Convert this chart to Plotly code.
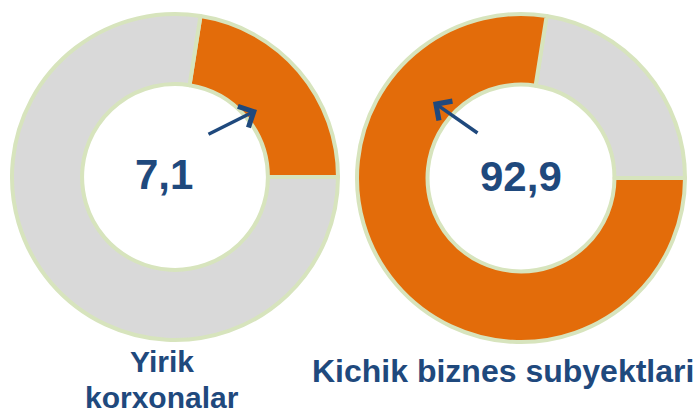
import plotly.graph_objects as go

# Data
categories_left = ["Yirik korxonalar", "Boshqa"]
slice_left = [22.5, 77.5]          # visible share of the orange arc / grey arc
value_label_left = "7,1"

categories_right = ["Boshqa", "Kichik biznes subyektlari"]
slice_right = [22.5, 77.5]
value_label_right = "92,9"

title_left = ["Yirik", "korxonalar"]
title_right = "Kichik biznes subyektlari"

ORANGE = "#E36C0A"
GREY = "#D9D9D9"
BORDER = "#D7E4BD"
BLUE = "#1F497D"
W, H = 699, 414
FONT = "Liberation Sans, Arial, sans-serif"

def px(x):
    return x / W

def py(y):
    return 1 - y / H

fig = go.Figure()
fig.add_trace(go.Pie(
    labels=categories_left, values=slice_left, sort=False, direction="clockwise",
    rotation=9, hole=0.57, textinfo="none", hoverinfo="label+value",
    marker=dict(colors=[ORANGE, GREY], line=dict(color=BORDER, width=4)),
    domain=dict(x=[px(12), px(338)], y=[py(340), py(14)]),
    showlegend=False,
))
fig.add_trace(go.Pie(
    labels=categories_right, values=slice_right, sort=False, direction="clockwise",
    rotation=9, hole=0.57, textinfo="none", hoverinfo="label+value",
    marker=dict(colors=[GREY, ORANGE], line=dict(color=BORDER, width=4)),
    domain=dict(x=[px(357), px(685)], y=[py(342), py(14)]),
    showlegend=False,
))

ann = []
ann.append(dict(text="<b>%s</b>" % value_label_left, x=px(164), y=py(174), xref="paper", yref="paper",
                showarrow=False, font=dict(family=FONT, size=42, color=BLUE),
                xanchor="center", yanchor="middle"))
ann.append(dict(text="<b>%s</b>" % value_label_right, x=px(521), y=py(176), xref="paper", yref="paper",
                showarrow=False, font=dict(family=FONT, size=42, color=BLUE),
                xanchor="center", yanchor="middle"))
# arrows
ann.append(dict(text="", x=px(257), y=py(110), xref="paper", yref="paper",
                ax=-50, ay=25, showarrow=True, arrowhead=4, arrowsize=1.3,
                arrowwidth=3.5, arrowcolor=BLUE))
ann.append(dict(text="", x=px(433), y=py(102), xref="paper", yref="paper",
                ax=46, ay=32, showarrow=True, arrowhead=4, arrowsize=1.3,
                arrowwidth=3.5, arrowcolor=BLUE))
# titles
ann.append(dict(text="<b>%s</b>" % title_left[0], x=px(162), y=py(361), xref="paper", yref="paper",
                showarrow=False, font=dict(family=FONT, size=30, color=BLUE),
                xanchor="center", yanchor="middle"))
ann.append(dict(text="<b>%s</b>" % title_left[1], x=px(162), y=py(397), xref="paper", yref="paper",
                showarrow=False, font=dict(family=FONT, size=30, color=BLUE),
                xanchor="center", yanchor="middle"))
ann.append(dict(text="<b>%s</b>" % title_right, x=px(503), y=py(371), xref="paper", yref="paper",
                showarrow=False, font=dict(family=FONT, size=32, color=BLUE),
                xanchor="center", yanchor="middle"))

fig.update_layout(
    width=W, height=H, margin=dict(l=0, r=0, t=0, b=0),
    paper_bgcolor="white", plot_bgcolor="white",
    annotations=ann,
)
fig.write_html("out.html", config={"displayModeBar": False},
               post_script="document.body.style.margin='0';")
